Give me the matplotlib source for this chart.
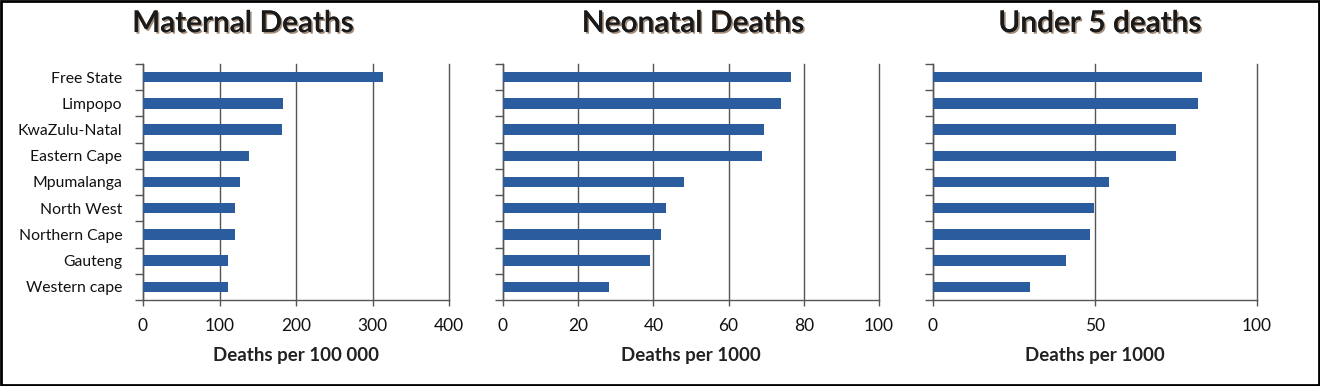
import numpy as np
import matplotlib
matplotlib.use("Agg")
import matplotlib.pyplot as plt
import matplotlib.patheffects as pe
from matplotlib.patches import Rectangle

provinces = ["Free State", "Limpopo", "KwaZulu-Natal", "Eastern Cape", "Mpumalanga",
             "North West", "Northern Cape", "Gauteng", "Western cape"]
maternal = [314, 183, 182, 139, 127, 120, 120, 111, 111]
neonatal = [76.5, 73.9, 69.5, 68.8, 48.2, 43.4, 41.9, 39.2, 28.3]
under5 = [83.1, 81.8, 75.0, 75.0, 54.3, 49.8, 48.4, 41.0, 29.9]

titles = ["Maternal Deaths", "Neonatal Deaths", "Under 5 deaths"]
xlabels = ["Deaths per 100 000", "Deaths per 1000", "Deaths per 1000"]
xticks = [[0, 100, 200, 300, 400], [0, 20, 40, 60, 80, 100], [0, 50, 100]]

plt.rcParams["font.family"] = ["Lato", "DejaVu Sans"]

fig = plt.figure(figsize=(13.2, 3.86), dpi=100)
# panel boxes in pixels: left, width
boxes = [(143, 306), (503, 376), (933, 324)]
title_x = [243, 693, 1100]
W, H = 1320, 386
bar_col = "#2b5c9e"
grid_col = "#555555"

for i, vals in enumerate([maternal, neonatal, under5]):
    l, w = boxes[i]
    ax = fig.add_axes([l / W, (H - 300) / H, w / W, 236 / H])
    y = np.arange(len(provinces))
    ax.barh(y, vals, height=0.4, color=bar_col, zorder=3)
    ax.set_ylim(len(provinces) - 0.5, -0.5)
    ax.set_xlim(0, xticks[i][-1])
    ax.set_xticks(xticks[i])
    ax.set_xticklabels([str(t) for t in xticks[i]], fontsize=12.5, color="#111111")
    ax.set_yticks(y)
    ax.set_yticks(np.arange(-0.5, len(provinces), 1), minor=True)
    if i == 0:
        ax.set_yticklabels(provinces, fontsize=11.3, color="#111111")
    else:
        ax.set_yticklabels([])
    ax.tick_params(axis="y", which="major", length=0, pad=15)
    ax.tick_params(axis="y", which="minor", length=6, width=1, color=grid_col)
    ax.tick_params(axis="x", length=4, width=1, color=grid_col, pad=9)
    ax.xaxis.grid(True, color=grid_col, linewidth=1, zorder=0)
    for gl in ax.get_xgridlines():
        gl.set_clip_on(False)
    for s in ["top", "right"]:
        ax.spines[s].set_visible(False)
    for s in ["left", "bottom"]:
        ax.spines[s].set_color(grid_col)
        ax.spines[s].set_linewidth(1)
    ax.set_xlabel(xlabels[i], fontsize=13.5, fontweight="bold", color="#222222", labelpad=9)
    fig.text(title_x[i] / W, 1 - 23 / H, titles[i], ha="center", va="center",
             fontsize=21.5, fontweight="semibold", color="#1a1a1a",
             path_effects=[pe.withSimplePatchShadow(offset=(1.2, -1.2), shadow_rgbFace="#7a5a40", alpha=0.7),
                           pe.Normal()])

fig.patches.append(Rectangle((0.001, 0.002), 0.998, 0.996, transform=fig.transFigure,
                             fill=False, edgecolor="black", linewidth=2))

fig.savefig("out.png", dpi=100)
